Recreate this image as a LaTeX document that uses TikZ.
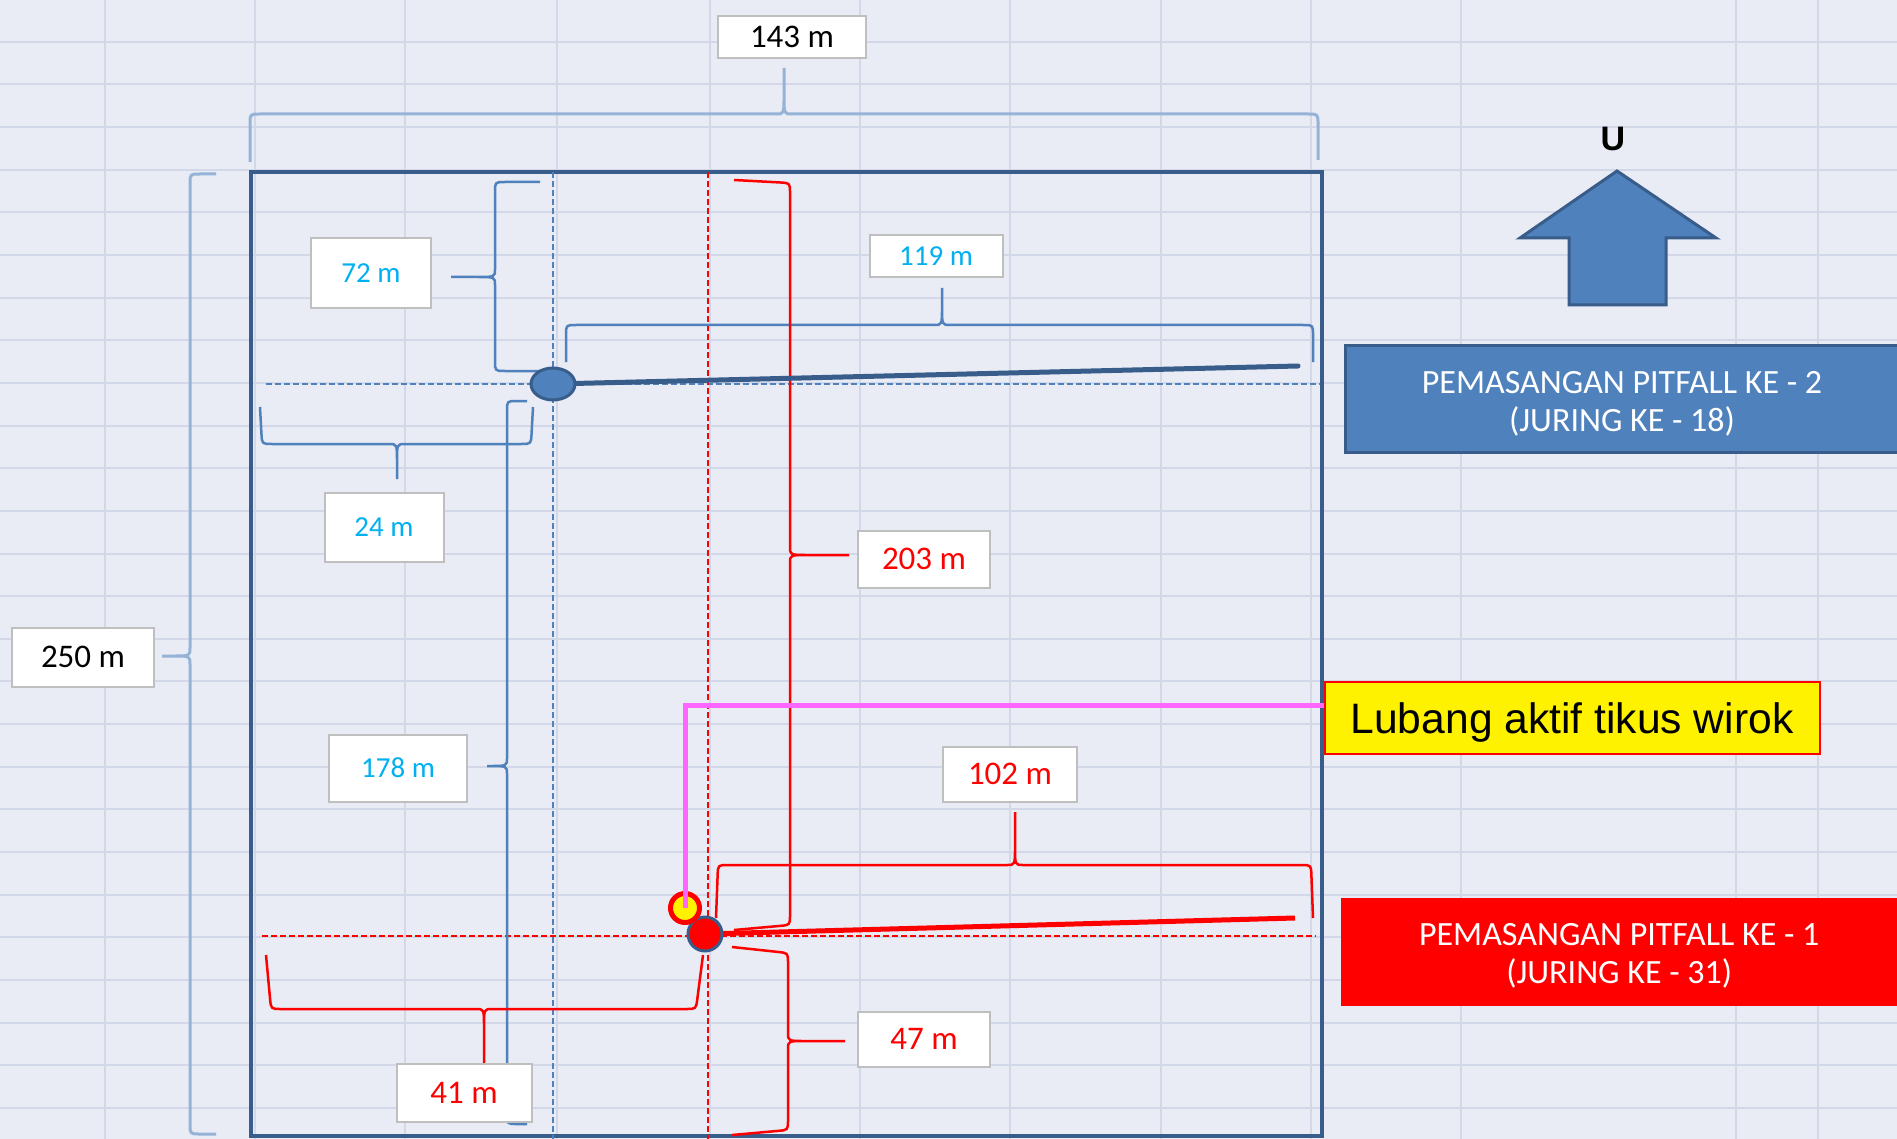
\documentclass[tikz,border=0pt]{standalone}
\usepackage{fontspec}
\setmainfont{Carlito}
\newfontfamily\arialfont{Liberation Sans}
\usetikzlibrary{calc,shapes.geometric}
\definecolor{bgc}{HTML}{E9EBF5}
\definecolor{gridc}{HTML}{D2D8E8}
\definecolor{darkc}{HTML}{385D8A}
\definecolor{bluec}{HTML}{4F81BD}
\definecolor{lightbc}{HTML}{95B3D7}
\definecolor{cyanc}{HTML}{00B0F0}
\definecolor{magc}{HTML}{FF66FF}
\definecolor{labgray}{HTML}{BFBFBF}
\newcommand\bracerad{10pt}
\newcommand\tipa{8pt}
\newcommand\tipb{18pt}
\newcommand\bracepath[7]{%
 \draw[#1] (#2) -- ($(#3)!\bracerad!(#2)$) .. controls (#3) .. ($(#3)!\bracerad!(#4)$)
   -- ($(#4)!\tipa!(#3)$) .. controls (#4) .. ($(#4)!\tipb!(#5)$) -- (#5)
   (#5) -- ($(#4)!\tipb!(#5)$) .. controls (#4) .. ($(#4)!\tipa!(#6)$)
   -- ($(#6)!\bracerad!(#4)$) .. controls (#6) .. ($(#6)!\bracerad!(#7)$) -- (#7);}
\newcommand\lowerby[2]{\raisebox{-#1}[\height][\depth]{#2}}
\begin{document}
\begin{tikzpicture}[x=1pt,y=-1pt,
  gridline/.style={gridc, line width=2},
  bigbrace/.style={lightbc, line width=3, line join=round},
  bluebrace/.style={bluec, line width=2.5, line join=round},
  redbrace/.style={red, line width=2.5, line join=round},
  bluedash/.style={bluec, line width=1.8, dash pattern=on 6pt off 3pt},
  reddash/.style={red, line width=1.8, dash pattern=on 6pt off 3pt},
  dimlabel/.style={fill=white, draw=labgray, line width=2, inner sep=0},
  lblbig/.style={dimlabel, font=\fontsize{33}{38}\selectfont},
  lblsmall/.style={dimlabel, font=\fontsize{29}{34}\selectfont, text=cyanc},
  pitbox/.style={anchor=west, inner sep=0, text=white, font=\fontsize{34}{38}\selectfont}
]
\useasboundingbox (0,0) rectangle (1897,1139);
\fill[bgc] (0,0) rectangle (1897,1139);
% grid
\foreach \x in {105,255,405,557,710,860,1010,1161,1311,1461,1736,1818}
  \draw[gridline] (\x,0) -- (\x,1139);
\foreach \k in {0,...,25}
  \draw[gridline] (0,{41.7+42.65*\k}) -- (1897,{41.7+42.65*\k});
% field rectangle
\draw[darkc, line width=4] (251,172) rectangle (1322,1136);
% dashed reference lines
\draw[bluedash] (553,172) -- (553,1139);
\draw[bluedash] (266,384) -- (1320,384);
\draw[reddash] (708,172) -- (708,1139);
\draw[reddash] (262,936) -- (1316,936);
% braces
\bracepath{bigbrace}{250,162}{250,114}{784,114}{784,68}{1318,114}{1318,160}
\bracepath{bigbrace}{216,174}{190,174}{190,656}{162,656}{190,1134}{216,1134}
\bracepath{bluebrace}{540,182}{495,182}{495,277}{451,277}{495,371}{542,371}
\bracepath{bluebrace}{566,362}{566,325}{942,325}{942,288}{1313,325}{1313,362}
\bracepath{bluebrace}{260,407}{262,444}{397,444}{397,479}{531,444}{533,407}
\bracepath{bluebrace}{527,401}{507,401}{507,766}{487,766}{507,1124}{527,1124}
\bracepath{redbrace}{734,180}{790,183}{790,555}{849,555}{790,925}{734,930}
\bracepath{redbrace}{732,947}{788,953}{788,1041}{845,1041}{788,1130}{732,1135}
\bracepath{redbrace}{716,918}{718,865}{1015,865}{1015,812}{1311,865}{1313,918}
\bracepath{redbrace}{266,955}{271,1009}{484,1009}{484,1063}{696,1009}{703,955}
% labels
\node[lblbig, minimum width=148, minimum height=42] (l143) at (792,37) {143 m};
\node[lblbig, minimum width=142, minimum height=59] (l250) at (83,657) {250 m};
\node[lblsmall, minimum width=120, minimum height=70] (l72) at (371,273) {72 m};
\node[lblsmall, minimum width=133, minimum height=42] (l119) at (936,256) {119 m};
\node[lblsmall, minimum width=119, minimum height=69] (l24) at (384,527) {24 m};
\node[lblsmall, minimum width=138, minimum height=67] (l178) at (398,768) {178 m};
\node[lblbig, text=red, minimum width=132, minimum height=57] (l203) at (924,559) {203 m};
\node[lblbig, text=red, minimum width=134, minimum height=55] (l102) at (1010,774) {102 m};
\node[lblbig, text=red, minimum width=132, minimum height=55] (l47) at (924,1039) {47 m};
\node[lblbig, text=red, minimum width=135, minimum height=58] (l41) at (464,1093) {41 m};
% pitfall lines and points
\coordinate (p2end) at (1298,366);
\coordinate (p1end) at (1295,918);
\draw[darkc, line width=5, line cap=round] (553,384) -- (p2end);
\node[ellipse, fill=bluec, draw=darkc, line width=3, minimum width=44, minimum height=32, inner sep=0] (p2dot) at (553,384) {};
\draw[red, line width=5] (705,934) -- (p1end);
\node[circle, fill=red, draw=darkc, line width=3, minimum size=34, inner sep=0] (p1dot) at (705,934) {};
% active hole
\node[circle, fill=yellow, draw=red, line width=5, minimum size=29, inner sep=0] (hole) at (685,908) {};
\node[fill=yellow, draw=red, line width=2, minimum width=495, minimum height=72, inner sep=0,
  font=\arialfont\fontsize{42.6}{50}\selectfont] (lubang) at (1572,718) {\lowerby{4pt}{Lubang aktif tikus wirok}};
\draw[magc, line width=5] (hole.center) |- ([yshift=13pt]lubang.west);
% info boxes
\node[pitbox, fill=bluec, draw=darkc, line width=3, minimum width=573, minimum height=106] (pit2) at (1344,399)
  {\lowerby{6pt}{\begin{tabular}{@{}c@{}}PEMASANGAN PITFALL KE - 2\\(JURING KE - 18)\end{tabular}}\hspace*{20pt}};
\node[pitbox, fill=red, minimum width=576, minimum height=108] (pit1) at (1341,952)
  {\lowerby{5pt}{\begin{tabular}{@{}c@{}}PEMASANGAN PITFALL KE - 1\\(JURING KE - 31)\end{tabular}}\hspace*{20pt}};
% north arrow
\draw[fill=bluec, draw=darkc, line width=3, line join=miter]
  (1617,171) -- (1716,238) -- (1666,238) -- (1666,305) -- (1569,305) -- (1569,238) -- (1520,238) -- cycle;
\node[font=\arialfont\bfseries\fontsize{34}{40}\selectfont] (north) at (1613,139) {U};
\end{tikzpicture}
\end{document}
